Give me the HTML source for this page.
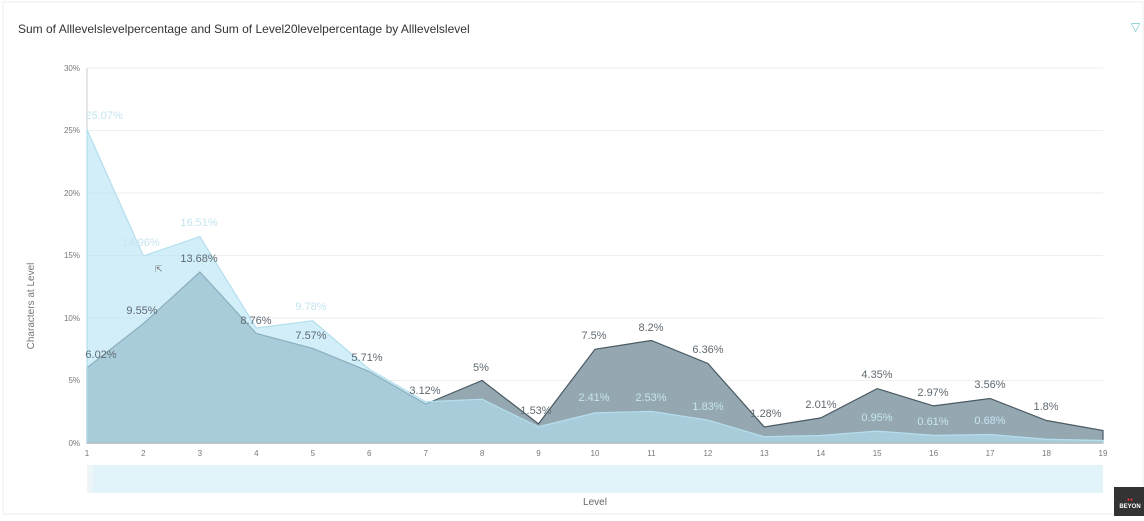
<!DOCTYPE html>
<html><head><style>
body{margin:0;width:1144px;height:516px;background:#fff;overflow:hidden;font-family:"Liberation Sans",sans-serif}
</style></head><body>
<svg width="1144" height="516" xmlns="http://www.w3.org/2000/svg" font-family="Liberation Sans, sans-serif">
<rect x="0" y="0" width="1144" height="516" fill="#fff"/>
<rect x="3" y="2" width="1140" height="512" fill="none" stroke="#eeeeee"/>
<text x="18" y="33" font-size="12" fill="#333">Sum of Alllevelslevelpercentage and Sum of Level20levelpercentage by Alllevelslevel</text>
<text x="1131" y="31" font-size="12" fill="#7cc">▽</text>
<g stroke="#eeeeee" stroke-width="1">
<line x1="87" y1="68" x2="1103" y2="68"/><line x1="87" y1="130.5" x2="1103" y2="130.5"/>
<line x1="87" y1="193" x2="1103" y2="193"/><line x1="87" y1="255.5" x2="1103" y2="255.5"/>
<line x1="87" y1="318" x2="1103" y2="318"/><line x1="87" y1="380.5" x2="1103" y2="380.5"/>
</g>
<g font-size="8" fill="#777" text-anchor="end">
<text x="80" y="71">30%</text><text x="80" y="133">25%</text><text x="80" y="196">20%</text>
<text x="80" y="258">15%</text><text x="80" y="321">10%</text><text x="80" y="383">5%</text><text x="80" y="446">0%</text>
</g>
<line x1="87" y1="68" x2="87" y2="443" stroke="#ccc"/>
<text transform="translate(34,306) rotate(-90)" font-size="10" fill="#777" text-anchor="middle">Characters at Level</text>
<polygon fill="#95a7b1" stroke="#4a5a63" stroke-width="1.2" points="87,443 87,367.75 143.4,323.6 199.9,272 256.3,333.5 312.8,348.4 369.2,371.6 425.7,404 482.1,380.5 538.5,423.9 595,349.25 651.4,340.5 707.9,363.5 764.3,427 820.8,417.9 877.2,388.6 933.6,405.9 990.1,398.5 1046.5,420.5 1103,430.5 1103,443"/>
<polygon fill="rgba(180,228,245,0.62)" stroke="#b5dfee" stroke-width="1.2" points="87,443 87,129.6 143.4,256 199.9,236.6 256.3,328 312.8,320.75 369.2,369.25 425.7,401.75 482.1,399.25 538.5,426.75 595,412.9 651.4,411.4 707.9,420.1 764.3,436.75 820.8,435.5 877.2,431.1 933.6,435.4 990.1,434.5 1046.5,439.25 1103,440.5 1103,443"/>
<line x1="87" y1="443" x2="1103" y2="443" stroke="#bbb"/>
<g font-size="8" fill="#777" text-anchor="middle">
<text x="87" y="456">1</text><text x="143.4" y="456">2</text><text x="199.9" y="456">3</text><text x="256.3" y="456">4</text><text x="312.8" y="456">5</text><text x="369.2" y="456">6</text><text x="425.7" y="456">7</text><text x="482.1" y="456">8</text><text x="538.5" y="456">9</text><text x="595" y="456">10</text><text x="651.4" y="456">11</text><text x="707.9" y="456">12</text><text x="764.3" y="456">13</text><text x="820.8" y="456">14</text><text x="877.2" y="456">15</text><text x="933.6" y="456">16</text><text x="990.1" y="456">17</text><text x="1046.5" y="456">18</text><text x="1103" y="456">19</text>
</g>
<g font-size="11" fill="#606a72" text-anchor="middle">
<text x="101" y="358">6.02%</text><text x="142" y="314">9.55%</text><text x="199" y="262">13.68%</text>
<text x="256" y="324">8.76%</text><text x="311" y="339">7.57%</text><text x="367" y="361">5.71%</text>
<text x="425" y="394">3.12%</text><text x="481" y="371">5%</text><text x="536" y="414">1.53%</text>
<text x="594" y="339">7.5%</text><text x="651" y="331">8.2%</text><text x="708" y="353">6.36%</text>
<text x="766" y="417">1.28%</text><text x="821" y="408">2.01%</text><text x="877" y="378">4.35%</text>
<text x="933" y="396">2.97%</text><text x="990" y="388">3.56%</text><text x="1046" y="410">1.8%</text>
</g>
<g font-size="11" fill="#c5e6f0" text-anchor="middle">
<text x="104" y="119">25.07%</text><text x="141" y="246">14.96%</text><text x="199" y="226">16.51%</text>
<text x="311" y="310">9.78%</text><text x="594" y="401">2.41%</text><text x="651" y="401">2.53%</text>
<text x="708" y="410">1.83%</text><text x="877" y="421">0.95%</text><text x="933" y="425">0.61%</text><text x="990" y="424">0.68%</text>
</g>
<text x="155" y="272" font-size="9" fill="#777">⇱</text>
<rect x="87" y="465" width="1016" height="28" fill="#e2f3fa"/>
<rect x="87" y="465" width="6" height="28" fill="#eef5f7"/>
<text x="595" y="505" font-size="10" fill="#666" text-anchor="middle">Level</text>
<rect x="1114" y="487" width="30" height="29" fill="#333"/>
<text x="1130" y="508" font-size="6" fill="#fff" text-anchor="middle" font-weight="bold">BEYON</text>
<text x="1130" y="501" font-size="5" fill="#e33" text-anchor="middle">●●</text>
</svg>
</body></html>
